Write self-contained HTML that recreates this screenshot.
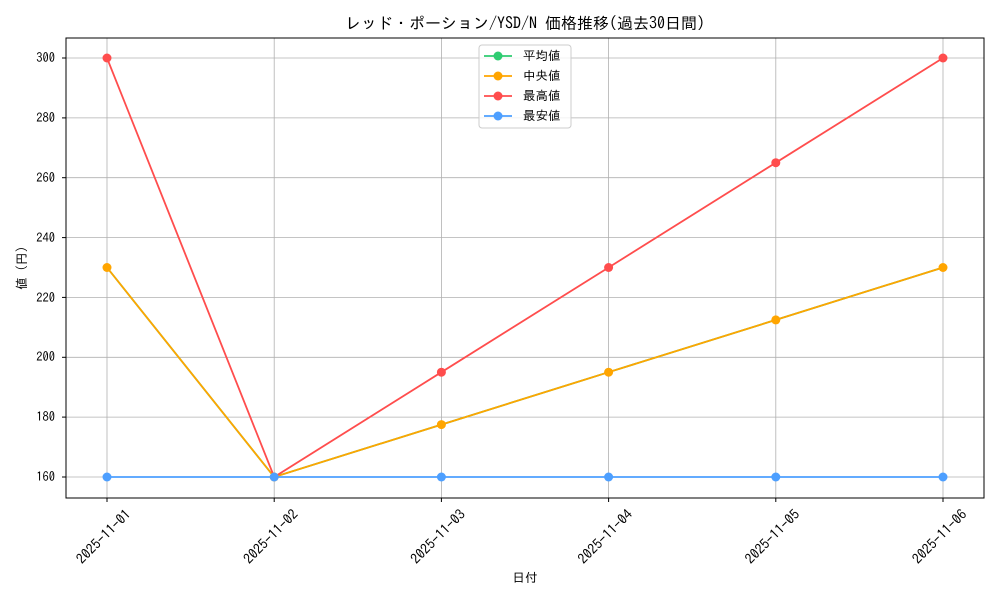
<!DOCTYPE html>
<html><head><meta charset="utf-8"><style>
body{margin:0;background:#fff;}
svg text{font-family:"IPAGothic","Liberation Sans","Noto Sans CJK JP",sans-serif;fill:#000;}
</style></head><body>
<svg width="1000" height="600" xmlns="http://www.w3.org/2000/svg">
<rect width="1000" height="600" fill="#fff"/>
<text x="525" y="29" font-size="16" text-anchor="middle">レッド・ポーション/YSD/N 価格推移(過去30日間)</text>
<g stroke="#b0b0b0" stroke-width="0.8">
<line x1="107" y1="38" x2="107" y2="498"/><line x1="274.2" y1="38" x2="274.2" y2="498"/><line x1="441.4" y1="38" x2="441.4" y2="498"/><line x1="608.6" y1="38" x2="608.6" y2="498"/><line x1="775.8" y1="38" x2="775.8" y2="498"/><line x1="943" y1="38" x2="943" y2="498"/>
<line x1="66" y1="58" x2="984" y2="58"/><line x1="66" y1="117.9" x2="984" y2="117.9"/><line x1="66" y1="177.7" x2="984" y2="177.7"/><line x1="66" y1="237.6" x2="984" y2="237.6"/><line x1="66" y1="297.4" x2="984" y2="297.4"/><line x1="66" y1="357.3" x2="984" y2="357.3"/><line x1="66" y1="417.1" x2="984" y2="417.1"/><line x1="66" y1="477" x2="984" y2="477"/>
</g>
<rect x="66" y="38" width="918" height="460" fill="none" stroke="#000" stroke-width="1"/>
<g font-size="12.5" text-anchor="end">
<text x="55" y="62">300</text><text x="55" y="122">280</text><text x="55" y="182">260</text><text x="55" y="242">240</text><text x="55" y="302">220</text><text x="55" y="361">200</text><text x="55" y="421">180</text><text x="55" y="481">160</text>
</g>
<g stroke="#000"><line x1="62" y1="58" x2="66" y2="58"/><line x1="62" y1="117.9" x2="66" y2="117.9"/><line x1="62" y1="177.7" x2="66" y2="177.7"/><line x1="62" y1="237.6" x2="66" y2="237.6"/><line x1="62" y1="297.4" x2="66" y2="297.4"/><line x1="62" y1="357.3" x2="66" y2="357.3"/><line x1="62" y1="417.1" x2="66" y2="417.1"/><line x1="62" y1="477" x2="66" y2="477"/>
<line x1="107" y1="498" x2="107" y2="502"/><line x1="274.2" y1="498" x2="274.2" y2="502"/><line x1="441.4" y1="498" x2="441.4" y2="502"/><line x1="608.6" y1="498" x2="608.6" y2="502"/><line x1="775.8" y1="498" x2="775.8" y2="502"/><line x1="943" y1="498" x2="943" y2="502"/></g>
<g font-size="14" text-anchor="middle">
<text transform="translate(107,540) rotate(-45)">2025-11-01</text>
<text transform="translate(274.2,540) rotate(-45)">2025-11-02</text>
<text transform="translate(441.4,540) rotate(-45)">2025-11-03</text>
<text transform="translate(608.6,540) rotate(-45)">2025-11-04</text>
<text transform="translate(775.8,540) rotate(-45)">2025-11-05</text>
<text transform="translate(943,540) rotate(-45)">2025-11-06</text>
</g>
<text x="525" y="582" font-size="12.5" text-anchor="middle">日付</text>
<text transform="translate(26,268) rotate(-90)" font-size="12.5" text-anchor="middle">値 (円)</text>
<g fill="none" stroke-width="1.8">
<polyline stroke="#2ecc71" points="107,267.5 274.2,477 441.4,424.6 608.6,372.2 775.8,319.9 943,267.5"/>
<polyline stroke="#ffa500" points="107,267.5 274.2,477 441.4,424.6 608.6,372.2 775.8,319.9 943,267.5"/>
<polyline stroke="#ff4d4d" points="107,58 274.2,477 441.4,372.2 608.6,267.5 775.8,162.7 943,58"/>
<polyline stroke="#4d9fff" points="107,477 943,477"/>
</g>
<g fill="#ffa500">
<circle cx="107" cy="267.5" r="4.5"/><circle cx="274.2" cy="477" r="4.5"/><circle cx="441.4" cy="424.6" r="4.5"/><circle cx="608.6" cy="372.2" r="4.5"/><circle cx="775.8" cy="319.9" r="4.5"/><circle cx="943" cy="267.5" r="4.5"/>
</g>
<g fill="#ff4d4d">
<circle cx="107" cy="58" r="4.5"/><circle cx="441.4" cy="372.2" r="4.5"/><circle cx="608.6" cy="267.5" r="4.5"/><circle cx="775.8" cy="162.7" r="4.5"/><circle cx="943" cy="58" r="4.5"/>
</g>
<g fill="#4d9fff">
<circle cx="107" cy="477" r="4.5"/><circle cx="274.2" cy="477" r="4.5"/><circle cx="441.4" cy="477" r="4.5"/><circle cx="608.6" cy="477" r="4.5"/><circle cx="775.8" cy="477" r="4.5"/><circle cx="943" cy="477" r="4.5"/>
</g>
<rect x="479" y="45" width="92" height="83" rx="3" fill="#fff" fill-opacity="0.8" stroke="#ccc"/>
<g stroke-width="1.8">
<line x1="484" y1="56" x2="512" y2="56" stroke="#2ecc71"/><circle cx="498" cy="56" r="4.5" fill="#2ecc71"/>
<line x1="484" y1="76" x2="512" y2="76" stroke="#ffa500"/><circle cx="498" cy="76" r="4.5" fill="#ffa500"/>
<line x1="484" y1="96" x2="512" y2="96" stroke="#ff4d4d"/><circle cx="498" cy="96" r="4.5" fill="#ff4d4d"/>
<line x1="484" y1="116" x2="512" y2="116" stroke="#4d9fff"/><circle cx="498" cy="116" r="4.5" fill="#4d9fff"/>
</g>
<g font-size="12.5"><text x="523" y="60">平均値</text><text x="523" y="80">中央値</text><text x="523" y="100">最高値</text><text x="523" y="120">最安値</text></g>
</svg>
</body></html>
